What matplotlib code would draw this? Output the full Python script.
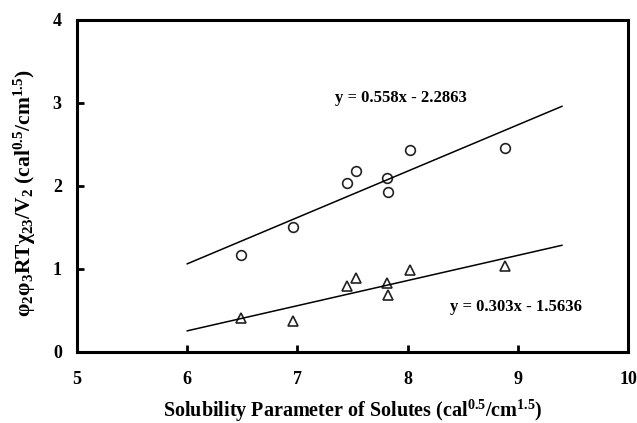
import numpy as np
import matplotlib.pyplot as plt

plt.rcParams['font.family'] = 'Liberation Serif'
plt.rcParams['font.weight'] = 'bold'
plt.rcParams['mathtext.fontset'] = 'custom'
plt.rcParams['mathtext.rm'] = 'Liberation Serif:bold'
plt.rcParams['mathtext.it'] = 'Liberation Serif:bold'
plt.rcParams['mathtext.bf'] = 'Liberation Serif:bold'

# solubility parameter of each solute
delta = [6.49, 6.96, 7.45, 7.53, 7.81, 7.82, 8.02, 8.88]
# interaction terms for the two series
chi_circ = [1.17, 1.51, 2.03, 2.18, 2.10, 1.93, 2.43, 2.46]
chi_tri = [0.41, 0.37, 0.79, 0.89, 0.83, 0.68, 0.99, 1.04]

# fitted lines
fit_circ = (0.558, -2.2863)
fit_tri = (0.303, -1.5636)
x_line = np.array([6.0, 9.4])

fig = plt.figure(figsize=(6.37, 4.23), dpi=100)
ax = fig.add_axes([0.121, 0.168, 0.865, 0.785])

ax.plot(delta, chi_circ, 'o', ms=7, mfc='none', mec='#222222', mew=1.2)
ax.plot(delta, chi_tri, '^', ms=7, mfc='none', mec='#222222', mew=1.2)
ax.plot(x_line, fit_circ[0] * x_line + fit_circ[1], color='black', lw=1.1)
ax.plot(x_line, fit_tri[0] * x_line + fit_tri[1], color='black', lw=1.1)

ax.text(7.94, 3.06, 'y = 0.558x - 2.2863', ha='center', va='center', fontsize=12, fontweight='bold')
ax.text(8.98, 0.54, 'y = 0.303x - 1.5636', ha='center', va='center', fontsize=12, fontweight='bold')

ax.set_xlim(5, 10)
ax.set_ylim(0, 4)
ax.set_xticks([5, 6, 7, 8, 9, 10])
ax.set_yticks([0, 1, 2, 3, 4])
ax.tick_params(direction='in', length=5, width=2, labelsize=13)
ax.tick_params(axis='x', pad=14)
ax.tick_params(axis='y', pad=11)
for lab in ax.get_xticklabels() + ax.get_yticklabels():
    lab.set_fontweight('bold')
for sp in ax.spines.values():
    sp.set_linewidth(2.2)

ax.set_xlabel('Solubility Parameter of Solutes (cal$^{0.5}$/cm$^{1.5}$)', fontsize=14.5, fontweight='bold', labelpad=7)
ax.set_ylabel('φ$_2$φ$_3$RTχ$_{23}$/V$_2$ (cal$^{0.5}$/cm$^{1.5}$)', fontsize=15.5, fontweight='bold')
ax.yaxis.set_label_coords(-0.071, 0.48)

fig.savefig('out.png', dpi=100)
